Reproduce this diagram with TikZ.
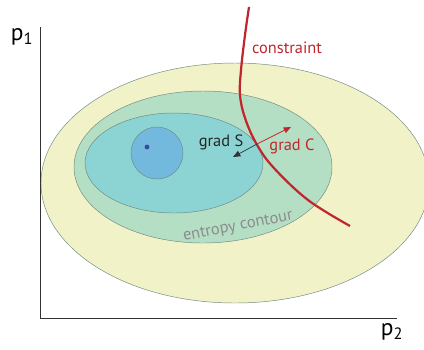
\documentclass[tikz,border=0pt]{standalone}
\usepackage{fontspec}
\setmainfont{PT Sans}
\usetikzlibrary{arrows.meta}
\definecolor{outerfill}{HTML}{F1F2C8}
\definecolor{midfill}{HTML}{B5DFC5}
\definecolor{innerfill}{HTML}{8CD3D3}
\definecolor{corefill}{HTML}{72B9DD}
\definecolor{rimgray}{HTML}{6F8A80}
\definecolor{consred}{HTML}{C0272D}
\definecolor{dotblue}{HTML}{3B4A9C}

\begin{document}
\begin{tikzpicture}[
    x=0.3mm, y=0.3mm,
    >={Triangle[length=2.2mm,width=1.8mm]},
    contour/.style={draw=rimgray, line width=0.4pt},
    axis/.style={draw=black!80, line width=0.6pt},
    axlabel/.style={font=\fontsize{20}{22}\selectfont, inner sep=0pt},
    lbl/.style={font=\fontsize{14}{16}\selectfont, inner sep=0pt}
]
\useasboundingbox (0,0) rectangle (424,-349);

% contours of the entropy
\path[contour, fill=outerfill] (235,-183) ellipse [x radius=194, y radius=120];
\path[contour, fill=midfill] (203,-167) ellipse [x radius=129, y radius=76];
\path[contour, fill=innerfill] (174,-163) ellipse [x radius=89, y radius=50];
\path[contour, fill=corefill] (157,-153) circle [radius=26];
\fill[dotblue] (147,-147) circle [radius=2.4];

% axes
\coordinate (top) at (40,-27);
\coordinate (origin) at (40,-318);
\coordinate (right) at (397,-318);
\draw[axis] (top) -- (origin) -- (right);
\node[axlabel] (p1) at (22,-37) {p\textsubscript{1}};
\node[axlabel] (p2) at (392,-332) {p\textsubscript{2}};

% constraint
\draw[consred, line width=1.9pt] plot[smooth, tension=0.6] coordinates {
    (249,-7) (245,-35) (241,-70) (240,-95) (245,-118) (256,-143)
    (273,-167) (308,-200) (350,-226)};
\node[lbl, text=consred] (cons) at (287,-48) {constraint};

% gradients
\coordinate (touch) at (257,-144);
\coordinate (gsend) at (233,-157);
\coordinate (gcend) at (291,-127);
\draw[->, black!80, line width=0.6pt] (touch) -- (gsend);
\draw[->, consred, line width=0.6pt] (touch) -- (gcend);
\node[lbl, text=black!85] (gradS) at (221,-142) {grad S};
\node[lbl, text=consred] (gradC) at (292,-146) {grad C};

\node[lbl, text=black!45, rotate=11] (entropy) at (238,-227) {entropy contour};

\end{tikzpicture}
\end{document}
